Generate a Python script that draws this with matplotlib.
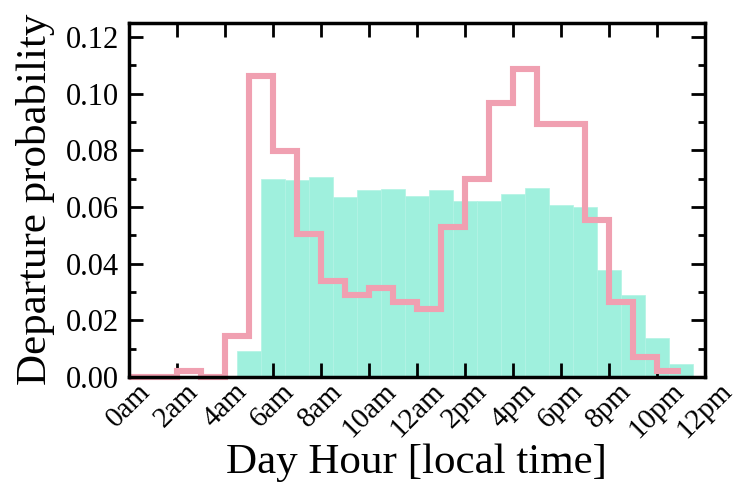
import numpy as np
import matplotlib.pyplot as plt

plt.rcParams['font.family'] = ['Liberation Serif', 'DejaVu Serif']

# hourly departure probabilities
hours = np.arange(24)
bar_prob = [0.0005, 0, 0, 0, 0, 0.0092, 0.0697, 0.0695, 0.0704, 0.0634, 0.0660, 0.0662,
            0.0637, 0.0661, 0.0621, 0.0619, 0.0646, 0.0668, 0.0606, 0.0599, 0.0377, 0.0288,
            0.0137, 0.0044]
step_edges = np.arange(24)
step_prob = [0, 0, 0.0022, 0, 0.0143, 0.1061, 0.0797, 0.0506, 0.0338, 0.0289, 0.0312,
             0.0263, 0.0241, 0.0530, 0.0700, 0.0965, 0.1086, 0.0892, 0.0892, 0.0554,
             0.0263, 0.0070, 0.0022]
tick_hours = np.arange(0, 25, 2)
tick_labels = ['0am', '2am', '4am', '6am', '8am', '10am', '12am', '2pm', '4pm', '6pm',
               '8pm', '10pm', '12pm']

fig = plt.figure(figsize=(7.36, 4.82), dpi=100)
ax = fig.add_axes([0.175, 0.218, 0.783, 0.735])

ax.bar(hours, bar_prob, width=1.0, color='#9ff0dd', edgecolor='#b2f3e4', linewidth=0.5, zorder=1)
ax.stairs(step_prob, step_edges, baseline=None, color='#f0a0b1', linewidth=4.4,
          zorder=2, clip_on=False)

ax.set_xlim(0, 24)
ax.set_ylim(0, 0.125)
ax.set_xticks(tick_hours)
ax.set_xticklabels(tick_labels, rotation=45, ha='center', fontsize=21)
ax.set_yticks(np.arange(0, 0.121, 0.02))
ax.set_yticks(np.arange(0, 0.125, 0.01), minor=True)
ax.set_yticklabels(['%.2f' % v for v in np.arange(0, 0.121, 0.02)], fontsize=22)

ax.tick_params(which='both', direction='in', top=True, right=True, width=2, zorder=5)
ax.tick_params(which='major', length=10)
ax.tick_params(which='minor', length=5)
ax.tick_params(axis='x', pad=1)
ax.tick_params(axis='y', pad=7)
for s in ax.spines.values():
    s.set_linewidth(2.5)
    s.set_zorder(5)

ax.set_xlabel('Day Hour [local time]', fontsize=31, labelpad=0)
ax.set_ylabel('Departure probability', fontsize=31, labelpad=8)

fig.savefig('out.png', dpi=100)
